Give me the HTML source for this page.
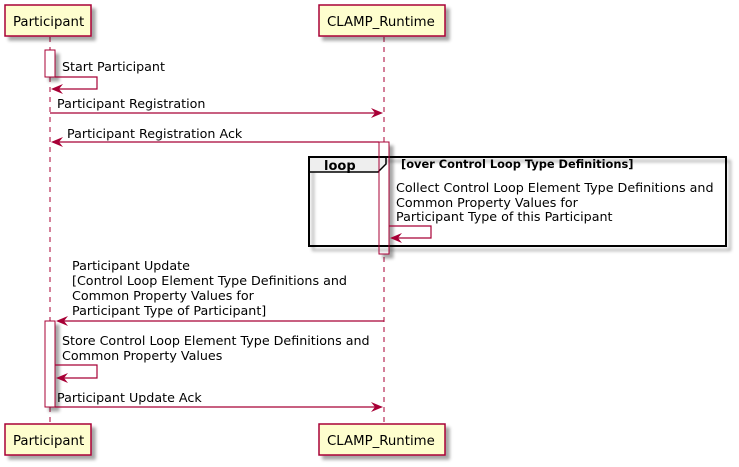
<!DOCTYPE html>
<html><head><meta charset="utf-8"><style>
html,body{margin:0;padding:0;background:#fff}
svg{display:block}
text{font-family:"DejaVu Sans","Liberation Sans",sans-serif;fill:#000}
</style></head><body>
<svg width="739" height="467" viewBox="0 0 739 467" xmlns="http://www.w3.org/2000/svg">
<defs>
<filter id="sh" x="-10%" y="-10%" width="130%" height="140%"><feGaussianBlur in="SourceAlpha" stdDeviation="1.5"/><feOffset dx="4" dy="4"/><feComponentTransfer><feFuncA type="linear" slope="0.35"/></feComponentTransfer><feMerge><feMergeNode/><feMergeNode in="SourceGraphic"/></feMerge></filter>
</defs>
<line x1="50" y1="37" x2="50" y2="424" stroke="#A80036" stroke-dasharray="5,5"/>
<line x1="384" y1="37" x2="384" y2="424" stroke="#A80036" stroke-dasharray="5,5"/>
<g fill="#FEFECE" stroke="#A80036" stroke-width="1.5" filter="url(#sh)">
<rect x="5" y="5" width="86" height="31"/>
<rect x="319" y="5" width="126" height="31"/>
<rect x="5" y="424" width="86" height="31"/>
<rect x="319" y="424" width="126" height="31"/>
</g>
<g font-size="13.3">
<text x="13" y="26">Participant</text>
<text x="327" y="26">CLAMP_Runtime</text>
<text x="13" y="445">Participant</text>
<text x="327" y="445">CLAMP_Runtime</text>
</g>
<g fill="#fff" stroke="#A80036" filter="url(#sh)">
<rect x="45" y="50" width="10" height="27"/>
<rect x="379" y="142" width="10" height="112"/>
<rect x="45" y="321" width="10" height="86"/>
</g>
<rect x="309" y="157" width="417" height="89" fill="none" stroke="#000" stroke-width="2" filter="url(#sh)"/>
<path d="M309,157 L386,157 L386,164 L378,172 L309,172 Z" fill="#EEEEEE" stroke="#000" stroke-width="1.5"/>
<rect x="309" y="157" width="417" height="89" fill="none" stroke="#000" stroke-width="2"/>
<text x="324" y="170" font-size="13" font-weight="bold">loop</text>
<text x="401" y="168" font-size="11.4" font-weight="bold">[over Control Loop Type Definitions]</text>
<rect x="379" y="142" width="10" height="112" fill="none" stroke="#A80036"/>
<g stroke="#A80036" fill="none" stroke-width="1.2">
<polyline points="55,77 97,77 97,89 53,89"/>
<line x1="50" y1="113" x2="381" y2="113"/>
<line x1="53" y1="142" x2="379" y2="142"/>
<polyline points="389,226 431,226 431,238 392,238"/>
<line x1="58" y1="321" x2="384" y2="321"/>
<polyline points="55,365 97,365 97,378 58,378"/>
<line x1="55" y1="407" x2="381" y2="407"/>
</g>
<g fill="#A80036">
<polygon points="51,89 63,84 59,89 63,94"/>
<polygon points="383,113 371,108 375,113 371,118"/>
<polygon points="51,142 63,137 59,142 63,147"/>
<polygon points="390,238 402,233 398,238 402,243"/>
<polygon points="56,321 68,316 64,321 68,326"/>
<polygon points="56,378 68,373 64,378 68,383"/>
<polygon points="383,407 371,402 375,407 371,412"/>
</g>
<g font-size="12.7">
<text x="62" y="71">Start Participant</text>
<text x="57" y="108">Participant Registration</text>
<text x="67" y="138">Participant Registration Ack</text>
<text x="396" y="192">Collect Control Loop Element Type Definitions and</text>
<text x="396" y="207">Common Property Values for</text>
<text x="396" y="221">Participant Type of this Participant</text>
<text x="72" y="270">Participant Update</text>
<text x="72" y="285">[Control Loop Element Type Definitions and</text>
<text x="72" y="300">Common Property Values for</text>
<text x="72" y="315">Participant Type of Participant]</text>
<text x="62" y="345">Store Control Loop Element Type Definitions and</text>
<text x="62" y="360">Common Property Values</text>
<text x="57" y="402">Participant Update Ack</text>
</g>
</svg>
</body></html>
